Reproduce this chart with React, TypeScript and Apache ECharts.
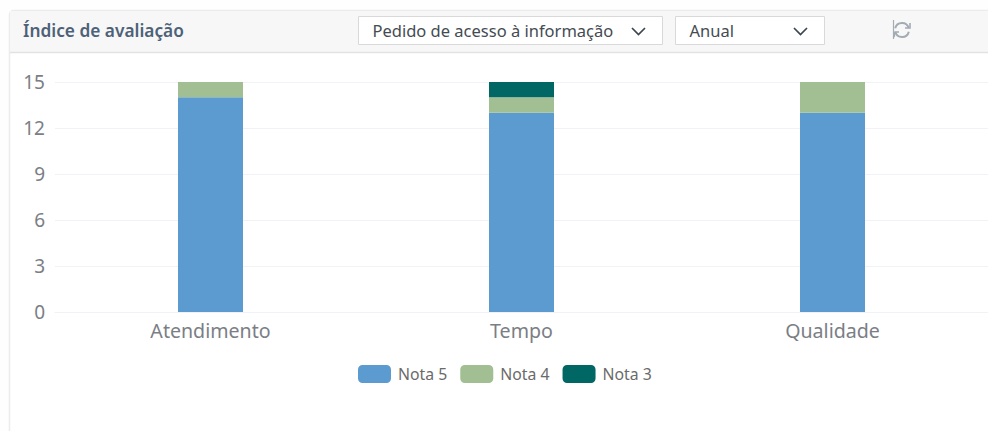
import React, { useEffect, useRef } from "react";
import * as echarts from "echarts";

const title = "Índice de avaliação";
const typeLabel = "Pedido de acesso à informação";
const periodLabel = "Anual";
const categories = ["Atendimento", "Tempo", "Qualidade"];
const nota5 = [14, 13, 13];
const nota4 = [1, 1, 2];
const nota3 = [0, 1, 0];
const colors = ["#5b9bd0", "#a2bf94", "#016764"];
const FONT = "'Noto Sans', 'Open Sans', sans-serif";

const chevron = (x: number, y: number) => ({
  type: "polyline",
  shape: { points: [[x, y], [x + 6.5, y + 6.5], [x + 13, y]] },
  style: { stroke: "#3c4650", lineWidth: 1.7, fill: "none" },
});

export default function App() {
  const ref = useRef<HTMLDivElement>(null);
  useEffect(() => {
    const chart = echarts.init(ref.current!, null, { renderer: "svg" });
    const bar = (name: string, data: number[], color: string) => ({
      name,
      type: "bar",
      stack: "total",
      barWidth: 65,
      data,
      itemStyle: { color },
    });
    chart.setOption({
      animation: false,
      backgroundColor: "#ffffff",
      textStyle: { fontFamily: FONT },
      grid: { left: 55, right: 0, top: 82, height: 230, containLabel: false },
      xAxis: {
        type: "category",
        data: categories,
        axisLine: { show: true, lineStyle: { color: "#f1f2f6", width: 1 } },
        axisTick: { show: false },
        axisLabel: { color: "#7b7e85", fontSize: 19.6, margin: 8, fontFamily: FONT },
      },
      yAxis: {
        type: "value",
        min: 0,
        max: 15,
        interval: 3,
        axisLine: { show: false },
        axisTick: { show: false },
        axisLabel: { color: "#7b7e85", fontSize: 19, margin: 10, fontFamily: FONT, padding: [0, 0, 8, 0] },
        splitLine: { lineStyle: { color: "#f1f2f6", width: 1 } },
      },
      legend: {
        left: 358,
        top: 365,
        icon: "roundRect",
        itemWidth: 33,
        itemHeight: 18,
        itemGap: 13,
        selectedMode: false,
        textStyle: { color: "#6a6a6a", fontSize: 15.8, fontFamily: FONT, padding: [0, 0, 3, 2] },
        padding: 0,
        data: ["Nota 5", "Nota 4", "Nota 3"],
      },
      series: [
        bar("Nota 5", nota5, colors[0]),
        bar("Nota 4", nota4, colors[1]),
        bar("Nota 3", nota3, colors[2]),
      ],
      graphic: [
        { type: "rect", silent: true, z: -1, shape: { x: 0, y: 0, width: 988, height: 431 }, style: { fill: "#fefefe" } },
        { type: "rect", silent: true, z: 0, shape: { x: 9.5, y: 10.5, width: 990, height: 430, r: 4 }, style: { fill: "#ffffff", stroke: "#ececec", lineWidth: 1.5 } },
        { type: "rect", silent: true, z: 1, shape: { x: 10, y: 11, width: 978, height: 41 }, style: { fill: "#f7f7f7" } },
        { type: "line", silent: true, z: 1, shape: { x1: 10, y1: 52.5, x2: 988, y2: 52.5 }, style: { stroke: "#e2e2e2", lineWidth: 1.5 } },
        { type: "text", silent: true, z: 2, x: 23, y: 30, style: { text: title, fill: "#4d6178", font: `600 17.3px ${FONT}`, textVerticalAlign: "middle" } },
        { type: "rect", silent: true, z: 2, shape: { x: 358.5, y: 16.5, width: 304, height: 28 }, style: { fill: "#ffffff", stroke: "#d9d9d9", lineWidth: 1 } },
        { type: "text", silent: true, z: 3, x: 372.5, y: 30, style: { text: typeLabel, fill: "#444b52", font: `16.5px ${FONT}`, textVerticalAlign: "middle" } },
        { ...chevron(632, 28), silent: true, z: 3 },
        { type: "rect", silent: true, z: 2, shape: { x: 675.5, y: 16.5, width: 149, height: 28 }, style: { fill: "#ffffff", stroke: "#d9d9d9", lineWidth: 1 } },
        { type: "text", silent: true, z: 3, x: 689.5, y: 30, style: { text: periodLabel, fill: "#444b52", font: `16.5px ${FONT}`, textVerticalAlign: "middle" } },
        { ...chevron(794, 28), silent: true, z: 3 },
        { type: "line", silent: true, z: 3, shape: { x1: 893.5, y1: 20, x2: 893.5, y2: 39 }, style: { stroke: "#a3abb4", lineWidth: 1.2 } },
        { type: "arc", silent: true, z: 3, shape: { cx: 902, cy: 30, r: 7, startAngle: -2.9, endAngle: -0.3 }, style: { stroke: "#a3abb4", lineWidth: 2, fill: "none" } },
        { type: "arc", silent: true, z: 3, shape: { cx: 902, cy: 30, r: 7, startAngle: 0.24, endAngle: 2.85 }, style: { stroke: "#a3abb4", lineWidth: 2, fill: "none" } },
        { type: "polyline", silent: true, z: 3, shape: { points: [[905, 28], [910, 28], [910, 23]] }, style: { stroke: "#a3abb4", lineWidth: 1.6, fill: "none" } },
        { type: "polyline", silent: true, z: 3, shape: { points: [[894, 37], [895, 32], [899, 32]] }, style: { stroke: "#a3abb4", lineWidth: 1.6, fill: "none" } },
      ],
    });
    return () => chart.dispose();
  }, []);
  return (
    <div
      ref={ref}
      style={{ position: "absolute", left: 0, top: 0, width: 988, height: 431 }}
    />
  );
}
